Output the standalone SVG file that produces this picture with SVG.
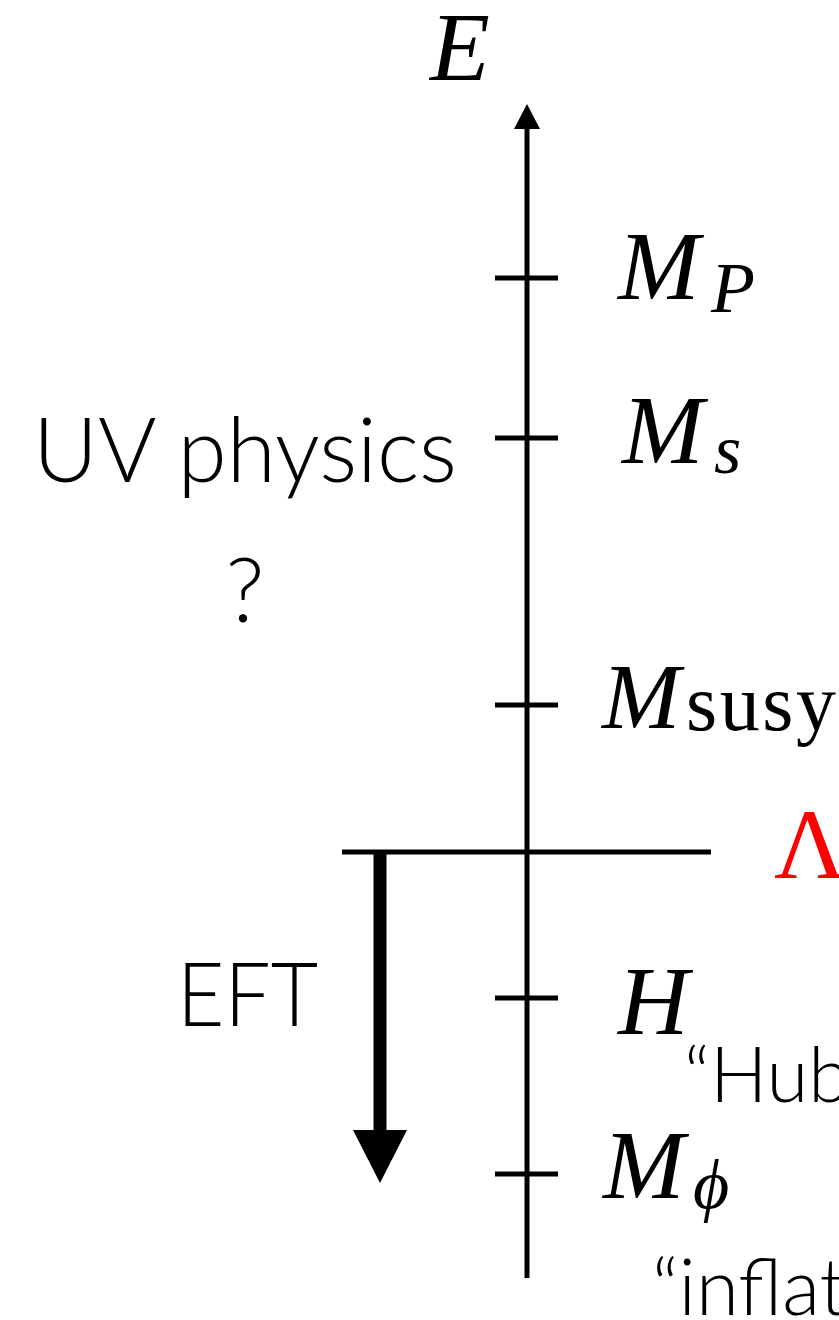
<svg xmlns="http://www.w3.org/2000/svg" width="839" height="1320" viewBox="0 0 839 1320">
  <style>
    .math { font-family: "Liberation Serif", "DejaVu Serif", serif; font-style: italic; fill: #000; }
    .rm { font-family: "Liberation Serif", "DejaVu Serif", serif; fill: #000; }
    .sans { font-family: Lato, "Open Sans", "Liberation Sans", sans-serif; font-weight: 300; fill: #000; }
    .tick { stroke: #000; stroke-width: 5; }
  </style>
  <rect width="839" height="1320" fill="#fff"/>

  <g id="connectors">
    <line x1="527" y1="1278" x2="527" y2="128" stroke="#000" stroke-width="5"/>
    <path d="M514,129 L527,104 L540,129 Z" fill="#000"/>
    <line class="tick" x1="495" y1="278" x2="558" y2="278"/>
    <line class="tick" x1="495" y1="438" x2="558" y2="438"/>
    <line class="tick" x1="495" y1="705" x2="558" y2="705"/>
    <line class="tick" x1="495" y1="998" x2="558" y2="998"/>
    <line class="tick" x1="495" y1="1174" x2="558" y2="1174"/>
    <line x1="342" y1="852" x2="711" y2="852" stroke="#000" stroke-width="5"/>
    <rect x="373.5" y="852" width="13" height="280" fill="#000"/>
    <path d="M353,1130 L407,1130 L380,1183 Z" fill="#000"/>
  </g>

  <g id="node-E"><text class="math" x="430" y="80" font-size="98">E</text></g>
  <g id="node-MP">
    <text class="math" x="618" y="299" font-size="98">M</text>
    <text class="math" x="711" y="312" font-size="72">P</text>
  </g>
  <g id="node-Ms">
    <text class="math" x="714" y="473" font-size="70">s</text>
    <text class="math" x="622" y="463" font-size="98">M</text>
  </g>
  <g id="node-Msusy">
    <text class="math" x="602" y="728" font-size="94">M</text>
    <text class="rm" x="686" y="730" font-size="80" textLength="150" lengthAdjust="spacing">susy</text>
  </g>
  <g id="node-Lambda"><text class="rm" x="774" y="878" font-size="100" fill="#ff0000" style="fill:#ff0000">Λ</text></g>
  <g id="node-H">
    <text class="math" x="618" y="1034" font-size="98">H</text>
    <text class="sans" x="684" y="1102" font-size="76">“Hub</text>
  </g>
  <g id="node-Mphi">
    <text class="math" x="603" y="1198" font-size="98">M</text>
    <text class="math" x="693" y="1208" font-size="70">ϕ</text>
    <text class="sans" x="652" y="1315" font-size="78">“inflat</text>
  </g>
  <g id="node-UV">
    <text class="sans" x="33" y="482" font-size="90" textLength="424" lengthAdjust="spacingAndGlyphs">UV physics</text>
    <text class="sans" x="245" y="622" font-size="90" text-anchor="middle">?</text>
  </g>
  <g id="node-EFT"><text class="sans" x="177" y="1026" font-size="88" textLength="141" lengthAdjust="spacingAndGlyphs">EFT</text></g>
</svg>
